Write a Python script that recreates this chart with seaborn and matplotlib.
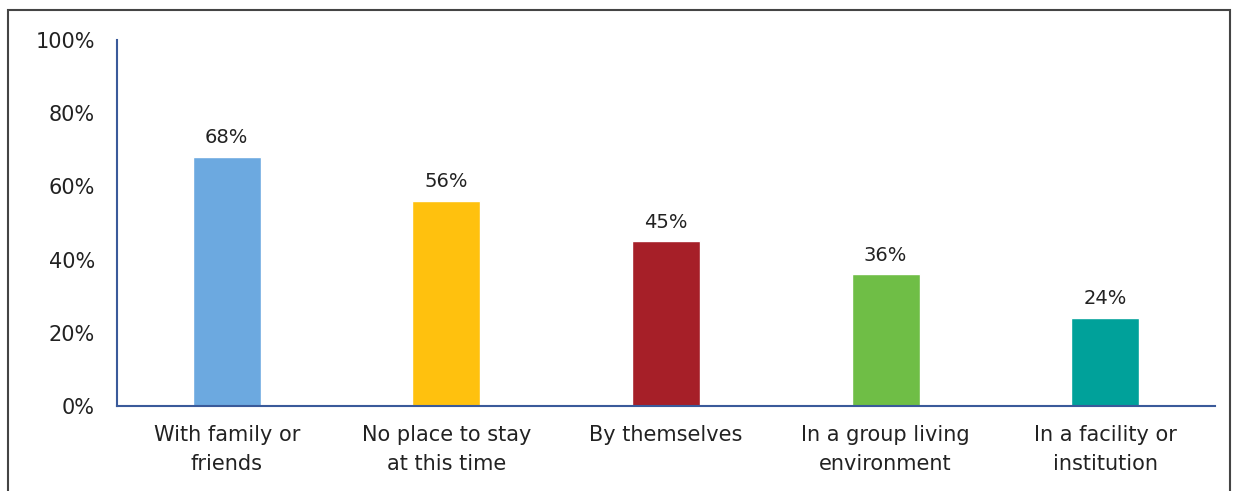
import pandas as pd
import matplotlib
matplotlib.use("Agg")
import matplotlib.pyplot as plt
import seaborn as sns
from matplotlib.patches import Rectangle

categories = ["With family or\nfriends", "No place to stay\nat this time", "By themselves",
              "In a group living\nenvironment", "In a facility or\ninstitution"]
values = [68, 56, 45, 36, 24]
colors = ["#6CA9E0", "#FFC10E", "#A61F28", "#6FBE46", "#00A19A"]
yticks = [0, 20, 40, 60, 80, 100]

df = pd.DataFrame({"category": categories, "value": values})

sns.set_style("white")
plt.rcParams['font.family'] = ['DejaVu Sans']

fig = plt.figure(figsize=(12.33, 4.91), dpi=100)
ax = fig.add_axes([0.0949, 0.1731, 0.8905, 0.7454])

sns.barplot(data=df, x="category", y="value", hue="category", palette=colors,
            width=0.31, legend=False, ax=ax, saturation=1)

for i, v in enumerate(values):
    ax.annotate(f"{v}%", (i, v), xytext=(0, 7), textcoords="offset points",
                ha="center", va="bottom", fontsize=14, color="#222222")

ax.set_ylim(0, 100)
ax.set_xlim(-0.5, len(categories) - 0.5)
ax.set_yticks(yticks)
ax.set_yticklabels([f"{t}%" for t in yticks], fontsize=15, color="#222222")
ax.set_xticks(range(len(categories)))
ax.set_xticklabels(categories, fontsize=15, color="#222222", linespacing=1.55)
ax.tick_params(axis="x", length=0, pad=14)
ax.tick_params(axis="y", length=0, pad=16)
ax.set_xlabel("")
ax.set_ylabel("")
for s in ["top", "right"]:
    ax.spines[s].set_visible(False)
for s in ["left", "bottom"]:
    ax.spines[s].set_color("#3A5A9A")
    ax.spines[s].set_linewidth(1.5)

fig.patches.append(Rectangle((0.0065, -0.05), 0.991, 1.03, transform=fig.transFigure,
                             fill=False, edgecolor="#444444", linewidth=1.5))

fig.savefig("out.png", dpi=100)
